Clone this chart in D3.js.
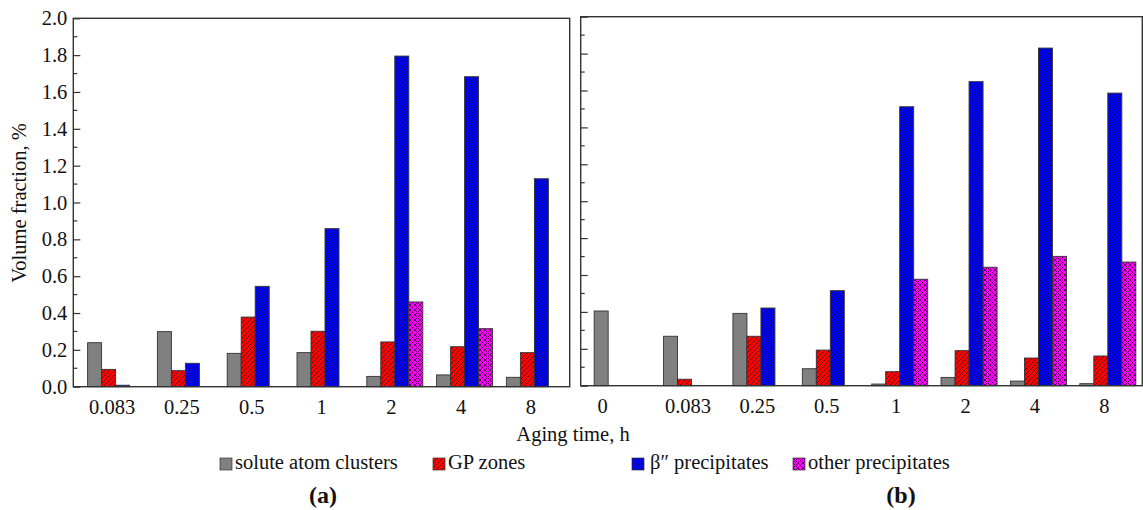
<!DOCTYPE html>
<html>
<head>
<meta charset="utf-8">
<script src="https://cdn.jsdelivr.net/npm/d3@7"></script>
<style>
  body { margin: 0; background: #fff; }
  svg text { font-family: "Liberation Serif", "Times New Roman", serif; fill: #111; }
</style>
</head>
<body>
<svg id="chart" width="1143" height="510"></svg>
<script>
// aging times (h) for the two panels
const timesA = ["0.083", "0.25", "0.5", "1", "2", "4", "8"];
const timesB = ["0", "0.083", "0.25", "0.5", "1", "2", "4", "8"];

const seriesNames = ["solute atom clusters", "GP zones", "\u03b2\u2033 precipitates", "other precipitates"];

// panel (a), volume fraction %
const clustersA = [0.239, 0.299, 0.181, 0.185, 0.056, 0.064, 0.051];
const gpA       = [0.094, 0.087, 0.378, 0.301, 0.243, 0.217, 0.185];
const betaA     = [0.008, 0.127, 0.545, 0.858, 1.795, 1.683, 1.129];
const otherA    = [0, 0, 0, 0, 0.460, 0.315, 0];

// panel (b)
const clustersB = [0.405, 0.268, 0.392, 0.092, 0.009, 0.045, 0.025, 0.011];
const gpB       = [0, 0.035, 0.268, 0.193, 0.076, 0.190, 0.150, 0.161];
const betaB     = [0, 0, 0.421, 0.515, 1.512, 1.648, 1.830, 1.586];
const otherB    = [0, 0, 0, 0, 0.577, 0.642, 0.701, 0.670];

const yTicks = [0, 0.2, 0.4, 0.6, 0.8, 1.0, 1.2, 1.4, 1.6, 1.8, 2.0];
const yMinor = [0.1, 0.3, 0.5, 0.7, 0.9, 1.1, 1.3, 1.5, 1.7, 1.9];

const svg = d3.select("#chart");
const defs = svg.append("defs");

// fill patterns
function hatch(id, color, paths) {
  const p = defs.append("pattern").attr("id", id)
    .attr("patternUnits", "userSpaceOnUse").attr("width", 5).attr("height", 5);
  p.append("rect").attr("width", 5).attr("height", 5).attr("fill", color);
  p.append("path").attr("d", paths).attr("stroke", "#111").attr("stroke-width", 0.7).attr("fill", "none");
}
const slash = "M0,5 L5,0 M-1,1 L1,-1 M4,6 L6,4";
const back = "M0,0 L5,5 M-1,4 L1,6 M4,-1 L6,1";
hatch("pGP", "#ff0000", slash);
hatch("pBeta", "#0000ff", back);
hatch("pOther", "#ff00ff", slash + " " + back);
const fills = ["#808080", "url(#pGP)", "url(#pBeta)", "url(#pOther)"];

function drawPanel(opts) {
  const { times, series, left, right, top, bottom, po, labels, firstDx } = opts;
  const g = svg.append("g");

  const x0 = d3.scaleBand().domain(times).range([left, right]).paddingInner(0).paddingOuter(po);
  const x1 = d3.scaleBand().domain([0, 1, 2, 3]).range([0, 56]);
  const y = d3.scaleLinear().domain([0, 2]).range([bottom, top]);

  // bars
  series.forEach((vals, s) => {
    g.append("g").selectAll("rect")
      .data(times.map((t, i) => ({ t: t, v: vals[i] })).filter(d => d.v > 0))
      .join("rect")
      .attr("x", d => x0(d.t) + x0.bandwidth() / 2 - 24.5 + x1(s))
      .attr("width", x1.bandwidth())
      .attr("y", d => y(d.v))
      .attr("height", d => y(0) - y(d.v))
      .attr("fill", fills[s])
      .attr("stroke", "#333")
      .attr("stroke-width", 0.9);
  });

  // frame
  g.append("rect").attr("x", left).attr("y", top)
    .attr("width", right - left).attr("height", bottom - top)
    .attr("fill", "none").attr("stroke", "#333").attr("stroke-width", 1.4);

  // y ticks (inward)
  const yAxis = d3.axisLeft(y).tickValues(yTicks).tickSizeInner(-7).tickSizeOuter(0)
    .tickFormat(labels ? d3.format(".1f") : () => "");
  const ya = g.append("g").attr("transform", `translate(${left},0)`).call(yAxis);
  ya.select(".domain").remove();
  ya.selectAll("line").attr("stroke", "#333").attr("stroke-width", 1.2);
  ya.selectAll("text").attr("x", -6).attr("font-size", 20.5)
    .style("font-family", "Liberation Serif, serif").attr("fill", "#111");
  g.append("g").selectAll("line").data(yMinor).join("line")
    .attr("x1", left).attr("x2", left + 4)
    .attr("y1", d => y(d)).attr("y2", d => y(d))
    .attr("stroke", "#333").attr("stroke-width", 1.2);

  // x labels
  const xAxis = d3.axisBottom(x0).tickSize(0).tickPadding(13);
  const xa = g.append("g").attr("transform", `translate(0,${bottom})`).call(xAxis);
  xa.select(".domain").remove();
  xa.selectAll("text").attr("font-size", 20.5)
    .style("font-family", "Liberation Serif, serif").attr("fill", "#111");
  if (firstDx) xa.selectAll("text").filter((d, i) => i === 0).attr("dx", firstDx);
}

drawPanel({
  times: timesA, series: [clustersA, gpA, betaA, otherA],
  left: 73.3, right: 569.7, top: 18.3, bottom: 386.7, po: 0.056, labels: true
});
drawPanel({
  times: timesB, series: [clustersB, gpB, betaB, otherB],
  left: 580.7, right: 1142.3, top: 16.7, bottom: 385.7, po: 0.0475, labels: false, firstDx: -16
});

// axis titles
svg.append("text").attr("x", 573).attr("y", 441).attr("text-anchor", "middle")
  .attr("font-size", 20.5).text("Aging time, h");
svg.append("text").attr("transform", "translate(26,203) rotate(-90)")
  .attr("text-anchor", "middle").attr("font-size", 20.5).text("Volume fraction, %");

// legend
const legendX = [220, 433, 632, 793];
const lg = svg.append("g").selectAll("g").data(seriesNames).join("g")
  .attr("transform", (d, i) => `translate(${legendX[i]},458)`);
lg.append("rect").attr("width", 12).attr("height", 12)
  .attr("fill", (d, i) => fills[i]).attr("stroke", "#333").attr("stroke-width", 0.7);
lg.append("text").attr("x", (d, i) => i === 2 ? 18 : 15).attr("y", 11)
  .attr("font-size", 20.5).text(d => d);

// panel letters
svg.append("text").attr("x", 323).attr("y", 503).attr("text-anchor", "middle")
  .attr("font-size", 24).attr("font-weight", "bold").text("(a)");
svg.append("text").attr("x", 901).attr("y", 503).attr("text-anchor", "middle")
  .attr("font-size", 24).attr("font-weight", "bold").text("(b)");
</script>
</body>
</html>
